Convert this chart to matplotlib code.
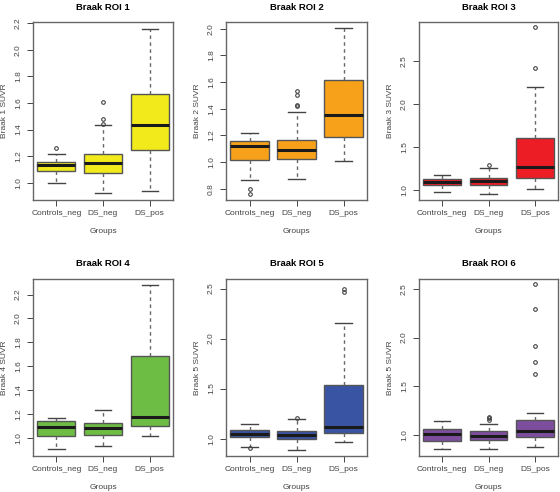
import matplotlib.pyplot as plt

plt.rcParams['font.family'] = ['Liberation Sans', 'DejaVu Sans']

groups = ['Controls_neg', 'DS_neg', 'DS_pos']
titles = ['Braak ROI 1', 'Braak ROI 2', 'Braak ROI 3', 'Braak ROI 4', 'Braak ROI 5', 'Braak ROI 6']
ylabels = ['Braak 1 SUVR', 'Braak 2 SUVR', 'Braak 3 SUVR', 'Braak 4 SUVR', 'Braak 5 SUVR', 'Braak 5 SUVR']
colors = ['#F3EA1B', '#F7A11B', '#EC1D25', '#6DBD45', '#3A54A4', '#7E4E9E']

# box stats: [whislo, q1, med, q3, whishi] per group
roi1 = [[1.00, 1.085, 1.135, 1.155, 1.215], [0.92, 1.07, 1.15, 1.22, 1.435], [0.94, 1.245, 1.435, 1.665, 2.16]]
roi2 = [[0.865, 1.015, 1.12, 1.155, 1.22], [0.875, 1.025, 1.09, 1.165, 1.375], [1.005, 1.185, 1.355, 1.615, 2.005]]
roi3 = [[0.975, 1.06, 1.09, 1.12, 1.175], [0.955, 1.06, 1.10, 1.14, 1.25], [1.01, 1.135, 1.265, 1.60, 2.195]]
roi4 = [[0.905, 1.02, 1.095, 1.14, 1.165], [0.93, 1.025, 1.08, 1.125, 1.235], [1.015, 1.105, 1.175, 1.685, 2.28]]
roi5 = [[0.915, 1.015, 1.05, 1.09, 1.15], [0.885, 0.995, 1.04, 1.08, 1.20], [0.965, 1.055, 1.115, 1.54, 2.155]]
roi6 = [[0.86, 0.94, 1.01, 1.065, 1.15], [0.855, 0.955, 0.995, 1.04, 1.11], [0.88, 0.98, 1.04, 1.16, 1.23]]

fliers1 = [[1.26], [1.44, 1.48, 1.61], []]
fliers2 = [[0.76, 0.80], [1.42, 1.43, 1.50, 1.53], []]
fliers3 = [[], [1.29], [2.41, 2.89]]
fliers4 = [[], [], []]
fliers5 = [[0.905], [1.205], [2.47, 2.50]]
fliers6 = [[], [1.16, 1.18, 1.19], [1.63, 1.75, 1.91, 2.29, 2.55]]

ylims = [(0.87, 2.21), (0.715, 2.05), (0.88, 2.95), (0.85, 2.33), (0.826, 2.595), (0.787, 2.6)]
yticks = [[1.0, 1.2, 1.4, 1.6, 1.8, 2.0, 2.2], [0.8, 1.0, 1.2, 1.4, 1.6, 1.8, 2.0],
          [1.0, 1.5, 2.0, 2.5], [1.0, 1.2, 1.4, 1.6, 1.8, 2.0, 2.2],
          [1.0, 1.5, 2.0, 2.5], [1.0, 1.5, 2.0, 2.5]]

all_stats = [roi1, roi2, roi3, roi4, roi5, roi6]
all_fliers = [fliers1, fliers2, fliers3, fliers4, fliers5, fliers6]

W, H = 560, 492
# axes rectangles in pixels (left, top, right, bottom)
rects = [(33, 22, 173, 200), (226, 22, 367, 200), (419, 22, 558, 200),
         (33, 279, 173, 456), (226, 279, 367, 456), (419, 279, 558, 456)]

fig = plt.figure(figsize=(W / 100, H / 100), dpi=100)

for i in range(6):
    l, t, r, b = rects[i]
    ax = fig.add_axes([l / W, 1 - b / H, (r - l) / W, (b - t) / H])
    stats = []
    for s, f in zip(all_stats[i], all_fliers[i]):
        stats.append(dict(whislo=s[0], q1=s[1], med=s[2], q3=s[3], whishi=s[4], fliers=f))
    ax.bxp(stats, positions=[1, 2, 3], widths=0.82, patch_artist=True,
           showfliers=True,
           boxprops=dict(facecolor=colors[i], edgecolor='#555555', linewidth=1.0),
           medianprops=dict(color='#1a1a1a', linewidth=2.2),
           whiskerprops=dict(color='#666666', linestyle=(0, (2.5, 2.5)), linewidth=1.0),
           capprops=dict(color='#444444', linewidth=1.0),
           capwidths=0.35,
           flierprops=dict(marker='o', markersize=2.6, markerfacecolor='none',
                           markeredgecolor='#444444', markeredgewidth=0.8))
    ax.set_xlim(0.5, 3.5)
    ax.set_ylim(*ylims[i])
    ax.set_yticks(yticks[i])
    ax.set_yticklabels(['%.1f' % v for v in yticks[i]], rotation=90, va='center')
    ax.set_xticks([1, 2, 3])
    ax.set_xticklabels(groups)
    ax.tick_params(labelsize=6, colors='#444444', length=4, width=0.7, pad=3)
    ax.tick_params(axis='y', pad=4)
    for sp in ax.spines.values():
        sp.set_color('#666666')
        sp.set_linewidth(1.0)
    ax.set_title(titles[i], fontsize=6.8, fontweight='bold', pad=9)
    ax.set_xlabel('Groups', fontsize=6, color='#444444', labelpad=8)
    ax.set_ylabel(ylabels[i], fontsize=6, color='#444444', labelpad=5)

fig.savefig('out.png', dpi=100)
